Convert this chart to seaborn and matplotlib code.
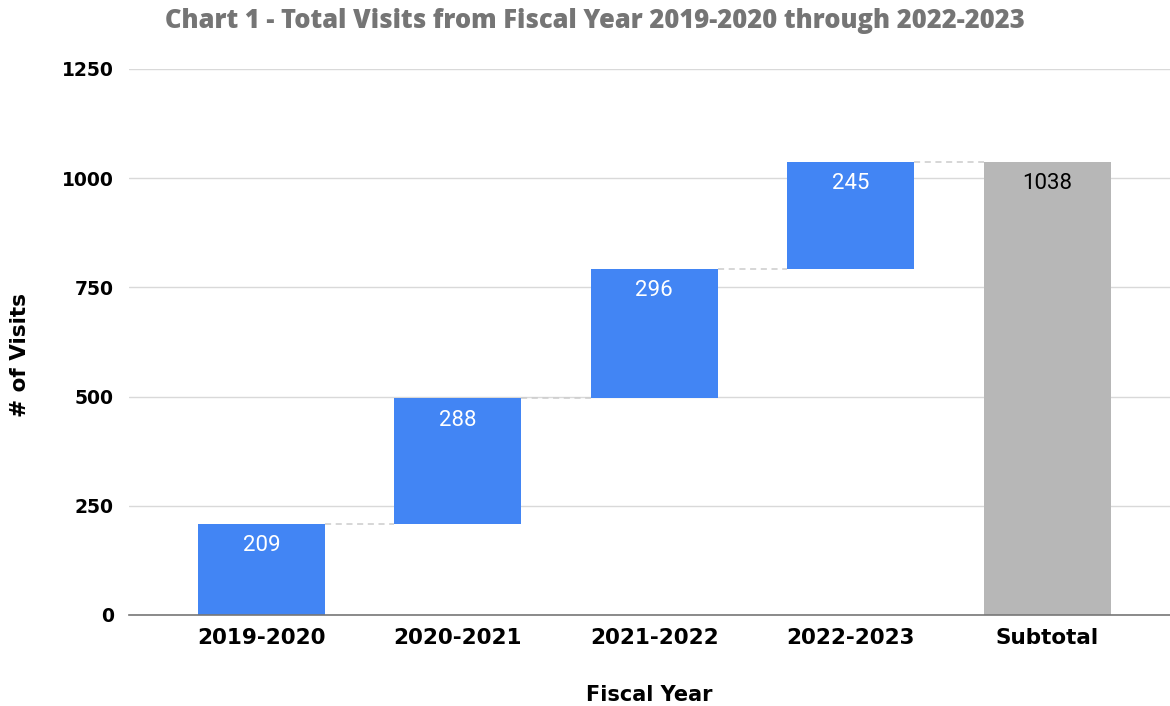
import matplotlib
matplotlib.use("Agg")
import matplotlib.pyplot as plt
import numpy as np
import pandas as pd
import seaborn as sns

# Fiscal-year visit counts and the closing subtotal
years = ["2019-2020", "2020-2021", "2021-2022", "2022-2023"]
visits = [209, 288, 296, 245]
subtotal_label = "Subtotal"
subtotal = 1038

categories = years + [subtotal_label]
running = np.cumsum(visits)
bases = list(np.concatenate([[0], running[:-1]])) + [0]
heights = visits + [subtotal]
tops = [b + h for b, h in zip(bases, heights)]

df = pd.DataFrame({"year": categories, "height": heights})

BLUE = "#4285F4"
GREY = "#B7B7B7"

sns.set_theme(style="white")
plt.rcParams["font.family"] = ["DejaVu Sans"]

fig = plt.figure(figsize=(11.7, 7.06), dpi=100)
ax = fig.add_axes([129 / 1170, 91 / 706, 1041 / 1170, 546 / 706])

bar_width = 0.647
sns.barplot(
    data=df, x="year", y="height", order=categories, color=BLUE,
    width=bar_width, bottom=bases, linewidth=0, saturation=1, ax=ax,
)
# Subtotal column in grey
ax.patches[-1].set_facecolor(GREY)

ax.set_ylim(0, 1250)
ax.set_xlim(-0.675, len(categories) - 1 + 0.626)
ax.set_yticks([0, 250, 500, 750, 1000, 1250])
ax.yaxis.grid(True, color="#D9D9D9", linewidth=1.0)
ax.set_axisbelow(True)
for side in ["left", "right", "top"]:
    ax.spines[side].set_visible(False)
ax.spines["bottom"].set_color("#777777")
ax.spines["bottom"].set_linewidth(1.2)
ax.tick_params(axis="both", length=0)
ax.tick_params(axis="y", pad=11)
ax.tick_params(axis="x", pad=9)
for lbl in ax.get_yticklabels():
    lbl.set_fontsize(13.5)
    lbl.set_fontweight("bold")
    lbl.set_color("black")
for lbl in ax.get_xticklabels():
    lbl.set_fontsize(15.5)
    lbl.set_fontweight("bold")
    lbl.set_color("black")

# Dashed connectors between consecutive bar tops
half = bar_width / 2
for i in range(len(categories) - 1):
    level = tops[i]
    ax.plot([i + half, i + 1 - half], [level, level], color="#CCCCCC",
            linestyle=(0, (4, 3)), linewidth=1.1, zorder=1)

# Value labels inside the top of each bar
for i, (top, val) in enumerate(zip(tops, heights)):
    ax.annotate(str(val), xy=(i, top), xytext=(0, -16), textcoords="offset points",
                ha="center", va="center", fontsize=16, family="Roboto",
                color="white" if i < len(years) else "black")

ax.set_xlabel("Fiscal Year", fontsize=15, fontweight="bold", color="black")
ax.xaxis.set_label_coords(0.5, -80 / 546)
ax.xaxis.label.set_va("center")
ax.set_ylabel("# of Visits", fontsize=15.5, fontweight="bold", color="black")
ax.yaxis.set_label_coords((20 - 129) / 1041, (615 - 355) / 546)
ax.yaxis.label.set_va("center")

fig.text(595 / 1170, 1 - 21 / 706,
         "Chart 1 - Total Visits from Fiscal Year 2019-2020 through 2022-2023",
         ha="center", va="center", fontsize=18.4, fontweight=800,
         family=["Open Sans", "DejaVu Sans"], color="#757575")

fig.savefig("out.png", dpi=100)
